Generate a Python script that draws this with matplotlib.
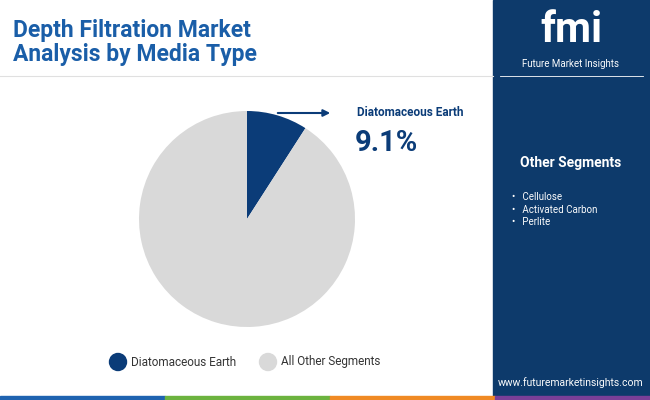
import matplotlib.pyplot as plt
from matplotlib.patches import Rectangle, Ellipse

labels = ["Diatomaceous Earth", "All Other Segments"]
shares = [9.1, 90.9]
colors = ["#0b3c78", "#d9d9d9"]
other_segments = ["Cellulose", "Activated Carbon", "Perlite"]

W, H = 650, 400
fig = plt.figure(figsize=(6.5, 4), dpi=100)
fig.patch.set_facecolor("white")

def px(x, y):
    return x / W, 1 - y / H

# right panel
fig.patches.append(Rectangle(px(493, 400), 157 / W, 1, transform=fig.transFigure, color="#0d3a6b", zorder=0))
# bottom strip
for x0, w, c in [(0, 165, "#1f63b0"), (165, 165, "#6cb33f"), (330, 165, "#f08a24"), (495, 155, "#7a3f98")]:
    fig.patches.append(Rectangle(px(x0, 400), w / W, 4 / H, transform=fig.transFigure, color=c, zorder=2))
fig.add_artist(plt.Line2D([0, 493 / W], [1 - 76 / H] * 2, transform=fig.transFigure, color="#e0e0e0", lw=0.8))

fig.text(*px(13, 30), "Depth Filtration Market", fontsize=16.5, fontweight="bold", color="#1a5ea8", va="center", family="Roboto")
fig.text(*px(13, 55), "Analysis by Media Type", fontsize=16.5, fontweight="bold", color="#1a5ea8", va="center", family="Roboto")

# pie
r = 108
ax = fig.add_axes([(247 - r) / W, 1 - (219 + r) / H, 2 * r / W, 2 * r / H])
ax.pie(shares, colors=colors, startangle=90, counterclock=False, radius=1,
       wedgeprops=dict(linewidth=0))
ax.set_xlim(-1, 1)
ax.set_ylim(-1, 1)
ax.set_aspect("equal")

fig.add_artist(plt.Annotation("", xy=px(333, 113), xytext=px(275, 113),
               xycoords="figure fraction", textcoords="figure fraction",
               arrowprops=dict(arrowstyle="-|>", color="#0b3c78", lw=1.5)))
fig.text(*px(357, 113), labels[0], fontsize=8.5, fontweight="bold", color="#0b3c78", va="center", family="Roboto")
fig.text(*px(355, 143), f"{shares[0]}%", fontsize=21, fontweight="bold", color="#0b3c78", va="center", family="Roboto")

# legend
for x, lab, c in [(118, labels[0], colors[0]), (268, labels[1], colors[1])]:
    fig.add_artist(Ellipse(px(x, 362), 17 / W, 17 / H, transform=fig.transFigure, color=c))
    fig.text(*px(x + 13, 362), lab, fontsize=8.5, color="#333333", va="center", family="Roboto")

# right panel text
fig.text(*px(571, 30), "fmi", fontsize=30, fontweight="bold", color="white", ha="center", va="center", family="Roboto")
fig.text(*px(571, 64), "Future Market Insights", fontsize=7, color="white", ha="center", va="center", family="Roboto")
fig.add_artist(plt.Line2D([500 / W, 643 / W], [1 - 76 / H] * 2, transform=fig.transFigure, color="white", lw=0.6))
fig.text(*px(571, 163), "Other Segments", fontsize=10, fontweight="bold", color="white", ha="center", va="center", family="Roboto")
for i, s in enumerate(other_segments):
    fig.text(*px(512, 197 + 12.5 * i), "\u2022   " + s, fontsize=7, color="white", va="center", family="Roboto")
fig.text(*px(571, 383), "www.futuremarketinsights.com", fontsize=7.5, color="white", ha="center", va="center", family="Roboto")

fig.savefig("out.png", dpi=100)
